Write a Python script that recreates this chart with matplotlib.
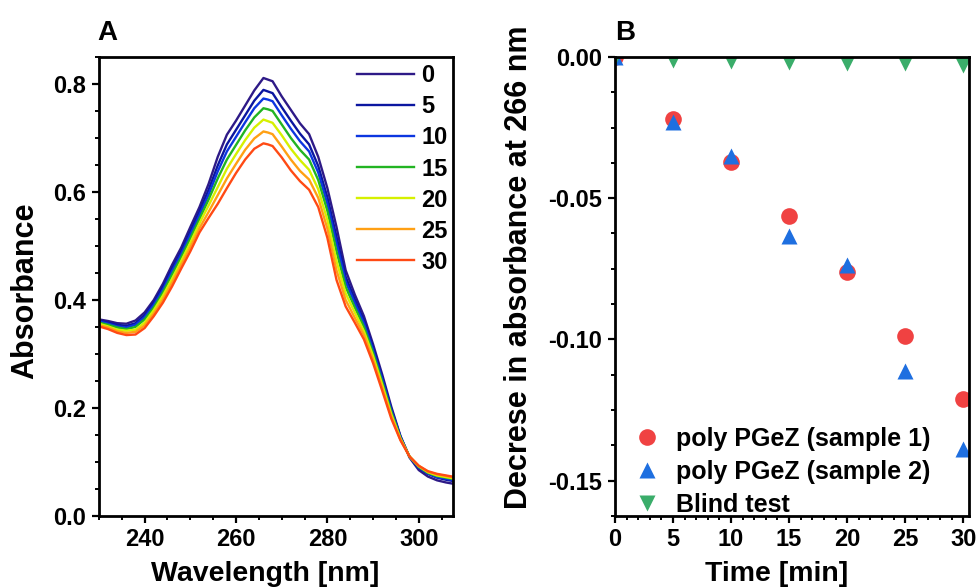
import matplotlib
matplotlib.use('Agg')
import matplotlib.pyplot as plt
from matplotlib.ticker import MultipleLocator, FormatStrFormatter

plt.rcParams['font.family'] = ['Liberation Sans', 'DejaVu Sans']
plt.rcParams['font.weight'] = 'bold'
plt.rcParams['axes.unicode_minus'] = False

# panel A: UV spectra, one curve per reaction time (min)
wavelength = [230, 232, 234, 236, 238, 240, 242, 244, 246, 248, 250, 252, 254, 256, 258, 260,
              262, 264, 266, 267, 268, 270, 272, 274, 276, 278, 280, 282, 284, 286, 288, 290,
              292, 294, 296, 298, 300, 302, 304, 306, 308]
abs_0 = [.364, .361, .357, .356, .362, .377, .400, .430, .465, .497, .535, .572, .615, .665, .706, .732,
         .760, .788, .811, .808, .805, .777, .752, .727, .707, .665, .607, .535, .455, .410, .370, .318,
         .262, .202, .148, .108, .085, .073, .066, .062, .059]
abs_5 = [.362, .358, .354, .352, .357, .372, .395, .424, .458, .490, .527, .564, .604, .649, .688, .715,
         .742, .769, .789, .786, .783, .757, .732, .708, .688, .648, .590, .517, .443, .401, .362, .312,
         .257, .198, .147, .109, .089, .078, .071, .067, .064]
abs_10 = [.360, .356, .351, .349, .354, .368, .391, .419, .453, .485, .521, .557, .595, .638, .675, .702,
          .729, .755, .773, .771, .768, .742, .717, .694, .675, .636, .578, .505, .434, .394, .357, .307,
          .253, .195, .146, .109, .090, .079, .072, .069, .066]
abs_15 = [.358, .354, .349, .346, .350, .364, .386, .414, .447, .479, .514, .550, .586, .625, .660, .687,
          .714, .738, .755, .753, .750, .725, .700, .678, .660, .622, .565, .490, .424, .386, .350, .302,
          .248, .192, .144, .110, .091, .080, .074, .071, .068]
abs_20 = [.356, .351, .345, .343, .345, .358, .381, .408, .439, .472, .506, .542, .575, .609, .643, .670,
          .696, .719, .734, .731, .728, .705, .680, .659, .641, .605, .548, .472, .412, .377, .342, .296,
          .243, .188, .143, .110, .092, .081, .075, .072, .069]
abs_25 = [.353, .349, .342, .339, .341, .353, .375, .401, .432, .465, .498, .533, .563, .594, .625, .652,
          .678, .699, .712, .710, .707, .684, .660, .639, .623, .589, .532, .455, .400, .367, .335, .289,
          .237, .184, .141, .110, .093, .082, .077, .074, .071]
abs_30 = [.351, .346, .339, .335, .336, .348, .370, .395, .425, .458, .490, .525, .552, .578, .607, .635,
          .660, .680, .690, .688, .685, .664, .640, .620, .604, .572, .515, .437, .388, .358, .327, .283,
          .232, .180, .140, .110, .093, .083, .078, .075, .072]
spectra = [abs_0, abs_5, abs_10, abs_15, abs_20, abs_25, abs_30]
spectra_labels = ['0', '5', '10', '15', '20', '25', '30']
spectra_colors = ['#2e1a87', '#0b16a0', '#0c36e0', '#22b422', '#d6f000', '#ffa014', '#ff4a14']

# panel B: change of absorbance at 266 nm
time_min = [0, 5, 10, 15, 20, 25, 30]
sample_1 = [0.0, -0.0219, -0.0373, -0.0564, -0.0761, -0.0987, -0.1212]
sample_2 = [0.0, -0.0229, -0.0352, -0.0635, -0.0735, -0.1112, -0.1389]
blind = [0.0, -0.0011, -0.0013, -0.0017, -0.0023, -0.0023, -0.0028]

TICK_FS = 17
XLABEL_FS = 20.5
YLABEL_FS = 22


def style_axes(ax):
    for sp in ax.spines.values():
        sp.set_linewidth(2.0)
    ax.tick_params(which='major', direction='out', length=5, width=1.6, labelsize=TICK_FS, pad=4)
    ax.tick_params(which='minor', direction='out', length=3, width=1.4)
    for lbl in ax.get_xticklabels() + ax.get_yticklabels():
        lbl.set_fontweight('bold')


fig = plt.figure(figsize=(9.78, 5.87), dpi=100)
ax_a = fig.add_axes([0.1012, 0.121, 0.362, 0.782])
ax_b = fig.add_axes([0.6288, 0.121, 0.362, 0.782])

for vals, lab, col in zip(spectra, spectra_labels, spectra_colors):
    ax_a.plot(wavelength, vals, color=col, lw=1.7, label=lab)
ax_a.set_xlim(230, 307.5)
ax_a.set_ylim(0, 0.85)
ax_a.xaxis.set_major_locator(MultipleLocator(20))
ax_a.xaxis.set_minor_locator(MultipleLocator(5))
ax_a.yaxis.set_major_locator(MultipleLocator(0.2))
ax_a.yaxis.set_minor_locator(MultipleLocator(0.05))
ax_a.yaxis.set_major_formatter(FormatStrFormatter('%.1f'))
style_axes(ax_a)
ax_a.set_xlabel('Wavelength [nm]', fontsize=XLABEL_FS, fontweight='bold')
ax_a.set_ylabel('Absorbance', fontsize=YLABEL_FS, fontweight='bold')
ax_a.xaxis.set_label_coords(0.469, -0.098)
ax_a.yaxis.set_label_coords(-0.1665, 0.49)
ax_a.legend(loc='upper left', bbox_to_anchor=(0.729, 0.9837), frameon=False,
            handlelength=2.42, handletextpad=0.3, labelspacing=0.34, borderpad=0, borderaxespad=0,
            prop={'weight': 'bold', 'size': 17})

ax_b.plot(time_min, sample_1, 'o', color='#f04242', ms=12, mec='none', label='poly PGeZ (sample 1)')
ax_b.plot(time_min, sample_2, '^', color='#1e6fe0', ms=12, mec='none', label='poly PGeZ (sample 2)')
ax_b.plot(time_min, blind, 'v', color='#3aad6a', ms=12, mec='none', label='Blind test')
ax_b.set_xlim(0, 30.5)
ax_b.set_ylim(-0.1625, 0)
ax_b.xaxis.set_major_locator(MultipleLocator(5))
ax_b.xaxis.set_minor_locator(MultipleLocator(1))
ax_b.yaxis.set_major_locator(MultipleLocator(0.05))
ax_b.yaxis.set_minor_locator(MultipleLocator(0.0125))
ax_b.yaxis.set_major_formatter(FormatStrFormatter('%.2f'))
style_axes(ax_b)
ax_b.set_xlabel('Time [min]', fontsize=XLABEL_FS, fontweight='bold')
ax_b.set_ylabel('Decrese in absorbance at 266 nm', fontsize=YLABEL_FS, fontweight='bold')
ax_b.xaxis.set_label_coords(0.456, -0.098)
ax_b.yaxis.set_label_coords(-0.229, 0.542)
ax_b.legend(loc='upper left', bbox_to_anchor=(0.055, 0.194), frameon=False,
            handlelength=1.0, handletextpad=0.66, labelspacing=0.36, borderpad=0, borderaxespad=0,
            prop={'weight': 'bold', 'size': 18})

fig.text(0.1, 0.932, 'A', fontsize=20, fontweight='bold')
fig.text(0.629, 0.932, 'B', fontsize=20, fontweight='bold')

fig.savefig('out.png', dpi=100)
